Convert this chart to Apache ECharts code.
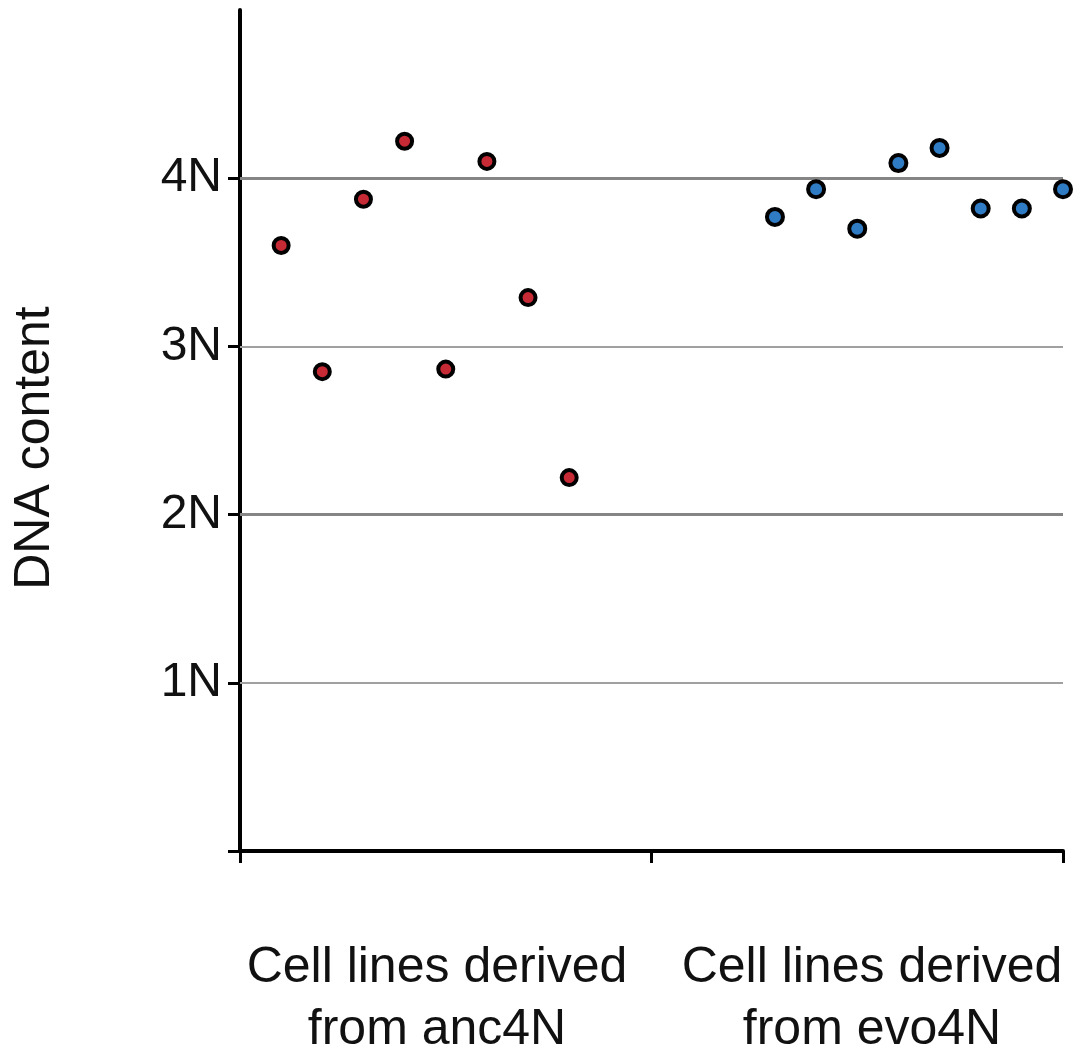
<!DOCTYPE html>
<html>
<head>
<meta charset="utf-8">
<script src="https://cdn.jsdelivr.net/npm/echarts@6/dist/echarts.min.js"></script>
<style>
html,body{margin:0;padding:0;background:#fff;}
#chart{width:1081px;height:1051px;}
</style>
</head>
<body>
<div id="chart"></div>
<script>
// Data
const ancPositions = [1, 2, 3, 4, 5, 6, 7, 8];
const ancValues = [3.60, 2.85, 3.875, 4.22, 2.865, 4.10, 3.29, 2.22];
const evoPositions = [13, 14, 15, 16, 17, 18, 19, 20];
const evoValues = [3.77, 3.935, 3.70, 4.09, 4.18, 3.82, 3.82, 3.935];
const yTickLabels = {1: '1N', 2: '2N', 3: '3N', 4: '4N'};
const gridValues = [1, 2, 3, 4];
const strongGridValues = [2, 4];
const groupLabels = ['Cell lines derived\nfrom anc4N', 'Cell lines derived\nfrom evo4N'];
const yAxisName = 'DNA content';

const FONT = "'Liberation Sans', Arial, Helvetica, sans-serif";

const chart = echarts.init(document.getElementById('chart'));

const gridLineData = gridValues.map(v => {
  const strong = strongGridValues.indexOf(v) >= 0;
  return {
    yAxis: v,
    lineStyle: {color: strong ? '#858585' : '#a0a0a0', width: strong ? 3 : 2, type: 'solid'}
  };
});

const option = {
  backgroundColor: '#ffffff',
  animation: false,
  grid: {left: 240, top: 10, right: 18, bottom: 200, containLabel: false},
  xAxis: {
    type: 'value', min: 0, max: 20, interval: 10,
    axisLine: {show: true, lineStyle: {color: '#000', width: 4}},
    axisTick: {show: true, inside: false, length: 12, lineStyle: {color: '#000', width: 3}},
    axisLabel: {show: false},
    splitLine: {show: false}
  },
  yAxis: {
    type: 'value', min: 0, max: 5, interval: 1,
    axisLine: {show: true, onZero: false, lineStyle: {color: '#000', width: 4}},
    axisTick: {show: true, inside: false, length: 12, customValues: [0, 1, 2, 3, 4], lineStyle: {color: '#000', width: 3}},
    axisLabel: {
      show: true, margin: 18, color: '#111', fontSize: 48, fontFamily: FONT,
      customValues: [1, 2, 3, 4],
      formatter: v => yTickLabels[v] || ''
    },
    splitLine: {show: false}
  },
  graphic: [
    {type: 'text', x: 35, y: 448, rotation: Math.PI / 2,
     style: {text: yAxisName, font: '50px ' + FONT, fill: '#111', textAlign: 'center', textVerticalAlign: 'middle'}},
    {type: 'text', x: 437, y: 937,
     style: {text: groupLabels[0], font: '50px ' + FONT, fill: '#111', textAlign: 'center', textVerticalAlign: 'top', lineHeight: 62}},
    {type: 'text', x: 872, y: 937,
     style: {text: groupLabels[1], font: '50px ' + FONT, fill: '#111', textAlign: 'center', textVerticalAlign: 'top', lineHeight: 62}}
  ],
  series: [
    {
      type: 'line', data: [], silent: true, z: 1,
      markLine: {silent: true, symbol: ['none', 'none'], label: {show: false}, data: gridLineData, animation: false}
    },
    {
      type: 'scatter', z: 5,
      data: ancPositions.map((x, i) => [x, ancValues[i]]),
      symbol: 'circle', symbolSize: 15,
      itemStyle: {color: '#c62a35', borderColor: '#000', borderWidth: 4, opacity: 1}
    },
    {
      type: 'scatter', z: 5,
      data: evoPositions.map((x, i) => [x, evoValues[i]]),
      symbol: 'circle', symbolSize: 16,
      itemStyle: {color: '#2f7cc4', borderColor: '#000', borderWidth: 4, opacity: 1}
    }
  ]
};
chart.setOption(option);
</script>
</body>
</html>
